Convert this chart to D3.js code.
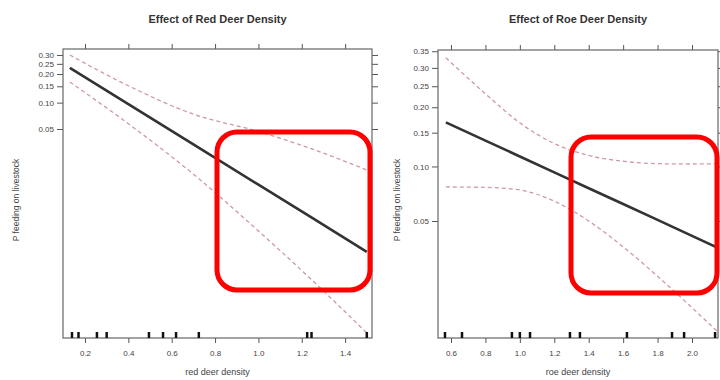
<!DOCTYPE html>
<html lang="en">
<head>
<meta charset="UTF-8">
<title>Effect of deer density</title>
<script src="https://cdn.jsdelivr.net/npm/d3@7"></script>
<style>
  body { margin: 0; background: #fff; }
  svg { font-family: "Liberation Sans", Arial, sans-serif; }
  .axis path, .axis line { stroke: #555; }
  .axis text { fill: #444; font-size: 8px; }
</style>
</head>
<body>
<script>
// red deer panel: x = density, values are P(feeding on livestock)
var redX     = [0.13, 0.4, 0.7, 1.0, 1.25, 1.5];
var redFit   = [0.2287, 0.0963, 0.0329, 0.01075, 0.00419, 0.00162];
var redUpper = [0.2999, 0.1519, 0.0743, 0.0467, 0.0289, 0.0162];
var redLower = [0.1662, 0.0576, 0.01443, 0.00292, 0.000716, 0.000163];
var redRug   = [0.14, 0.17, 0.255, 0.30, 0.495, 0.56, 0.62, 0.725, 1.225, 1.245, 1.5];
var redXTicks = [0.2, 0.4, 0.6, 0.8, 1.0, 1.2, 1.4];
var redYTicks = [0.05, 0.10, 0.15, 0.20, 0.25, 0.30];

// roe deer panel
var roeX     = [0.57, 0.8, 1.0, 1.2, 1.4, 1.6, 1.8, 2.0, 2.15];
var roeFit   = [0.169, 0.1367, 0.113, 0.093, 0.0762, 0.0623, 0.0507, 0.0412, 0.0352];
var roeUpper = [0.33, 0.2311, 0.168, 0.132, 0.1144, 0.1066, 0.1035, 0.1031, 0.1034];
var roeLower = [0.0774, 0.077, 0.0745, 0.0646, 0.05, 0.0356, 0.0241, 0.0158, 0.0114];
var roeRug   = [0.565, 0.664, 0.954, 1.0, 1.059, 1.291, 1.349, 1.622, 1.884, 1.954, 2.134];
var roeXTicks = [0.6, 0.8, 1.0, 1.2, 1.4, 1.6, 1.8, 2.0];
var roeYTicks = [0.05, 0.10, 0.15, 0.20, 0.25, 0.30, 0.35];

var w = 720, h = 380;
var logit = function(p) { return Math.log(p / (1 - p)); };

var svg = d3.select("body").append("svg")
  .attr("width", w)
  .attr("height", h);

function drawPanel(cfg) {
  var xScale = d3.scaleLinear().domain(cfg.xDomain).range([cfg.left, cfg.right]);
  // logit scale: linear in log-odds
  var yScale = d3.scaleLinear().domain(cfg.yDomain).range([cfg.bottom, cfg.top]);
  var yPos = function(p) { return yScale(logit(p)); };

  var g = svg.append("g");

  g.append("clipPath").attr("id", cfg.id + "-clip")
    .append("rect")
    .attr("x", cfg.left).attr("y", cfg.top)
    .attr("width", cfg.right - cfg.left).attr("height", cfg.bottom - cfg.top);

  // axes (ticks on all four sides like lattice)
  var fmtX = d3.format(".1f"), fmtY = d3.format(".2f");
  g.append("g").attr("class", "axis")
    .attr("transform", "translate(0," + cfg.bottom + ")")
    .call(d3.axisBottom(xScale).tickValues(cfg.xTicks).tickFormat(fmtX).tickSize(5).tickPadding(7))
    .call(function(a) { a.select(".domain").remove(); });
  g.append("g").attr("class", "axis")
    .attr("transform", "translate(0," + cfg.top + ")")
    .call(d3.axisTop(xScale).tickValues(cfg.xTicks).tickFormat("").tickSize(5))
    .call(function(a) { a.select(".domain").remove(); });
  var yAx = d3.axisLeft(yScale).tickValues(cfg.yTicks.map(logit))
    .tickFormat(function(d, i) { return fmtY(cfg.yTicks[i]); }).tickSize(6).tickPadding(3);
  g.append("g").attr("class", "axis")
    .attr("transform", "translate(" + cfg.left + ",0)")
    .call(yAx)
    .call(function(a) { a.select(".domain").remove(); });
  g.append("g").attr("class", "axis")
    .attr("transform", "translate(" + cfg.right + ",0)")
    .call(d3.axisRight(yScale).tickValues(cfg.yTicks.map(logit)).tickFormat("").tickSize(6))
    .call(function(a) { a.select(".domain").remove(); });

  g.append("rect")
    .attr("x", cfg.left).attr("y", cfg.top)
    .attr("width", cfg.right - cfg.left).attr("height", cfg.bottom - cfg.top)
    .attr("fill", "none").attr("stroke", "#666").attr("stroke-width", 1.2);

  var plot = g.append("g").attr("clip-path", "url(#" + cfg.id + "-clip)");

  var ci = d3.line()
    .x(function(d, i) { return xScale(cfg.x[i]); })
    .y(function(d) { return yPos(d); })
    .curve(d3.curveMonotoneX);
  var fitLine = d3.line()
    .x(function(d, i) { return xScale(cfg.x[i]); })
    .y(function(d) { return yPos(d); });

  [cfg.upper, cfg.lower].forEach(function(s) {
    plot.append("path")
      .attr("d", ci(s))
      .attr("fill", "none")
      .attr("stroke", "#cc9aa3")
      .attr("stroke-width", 1.3)
      .attr("stroke-dasharray", "4,3");
  });
  plot.append("path")
    .attr("d", fitLine(cfg.fit))
    .attr("fill", "none")
    .attr("stroke", "#333")
    .attr("stroke-width", 2.6);

  // rug
  plot.selectAll(".rug")
    .data(cfg.rug)
    .enter()
    .append("line")
    .attr("x1", function(d) { return xScale(d); })
    .attr("x2", function(d) { return xScale(d); })
    .attr("y1", cfg.bottom - 6)
    .attr("y2", cfg.bottom)
    .attr("stroke", "#111")
    .attr("stroke-width", 2.5);

  var cx = (cfg.left + cfg.right) / 2;
  svg.append("text")
    .attr("x", cx).attr("y", 23)
    .attr("text-anchor", "middle")
    .attr("font-size", 11).attr("font-weight", "bold")
    .attr("fill", "#333")
    .text(cfg.title);
  svg.append("text")
    .attr("x", cx).attr("y", 375)
    .attr("text-anchor", "middle")
    .attr("font-size", 9).attr("fill", "#444")
    .text(cfg.xLabel);
  svg.append("text")
    .attr("transform", "translate(" + cfg.yLabelX + "," + 200 + ") rotate(-90)")
    .attr("text-anchor", "middle")
    .attr("font-size", 8.5).attr("fill", "#444")
    .text("P feeding on livestock");

  // highlight box drawn over the chart
  svg.append("rect")
    .attr("x", cfg.box[0]).attr("y", cfg.box[1])
    .attr("width", cfg.box[2]).attr("height", cfg.box[3])
    .attr("rx", 20)
    .attr("fill", "none")
    .attr("stroke", "#ff0000")
    .attr("stroke-width", 5);
}

drawPanel({
  id: "red", title: "Effect of Red Deer Density", xLabel: "red deer density",
  left: 63, right: 372, top: 49, bottom: 338, yLabelX: 19,
  xDomain: [0.0985, 1.524], yDomain: [-8.865, -0.678],
  x: redX, fit: redFit, upper: redUpper, lower: redLower, rug: redRug,
  xTicks: redXTicks, yTicks: redYTicks,
  box: [217, 132, 153, 158]
});

drawPanel({
  id: "roe", title: "Effect of Roe Deer Density", xLabel: "roe deer density",
  left: 438, right: 718, top: 50, bottom: 338, yLabelX: 400,
  xDomain: [0.5245, 2.151], yDomain: [-4.547, -0.602],
  x: roeX, fit: roeFit, upper: roeUpper, lower: roeLower, rug: roeRug,
  xTicks: roeXTicks, yTicks: roeYTicks,
  box: [571, 137, 146, 156]
});
</script>
</body>
</html>
